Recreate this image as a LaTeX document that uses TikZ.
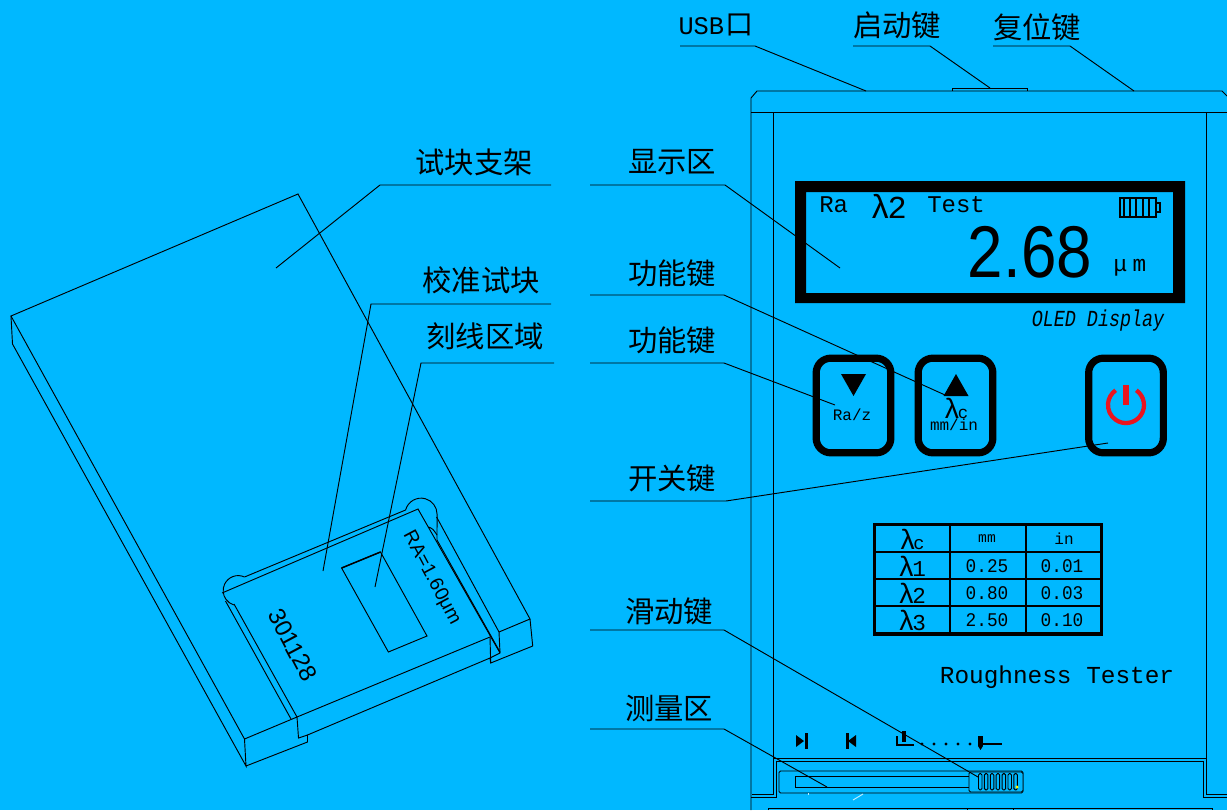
\documentclass[tikz,border=0pt]{standalone}
\usepackage{fontspec}
\setmainfont{Liberation Mono}
\newfontfamily\cjkfont{Noto Sans CJK SC}
\newfontfamily\sansfont{Liberation Sans}
\newcommand{\fs}[1]{\fontsize{#1}{#1}\selectfont}
\definecolor{bgblue}{RGB}{0,184,255}
\definecolor{keyred}{RGB}{235,20,30}
\usetikzlibrary{positioning}
\begin{document}
\begin{tikzpicture}[x=0.75pt,y=-0.75pt,
    leader/.style={draw=black,line width=0.7pt},
    outline/.style={draw=black,line width=0.7pt},
    cjklabel/.style={inner sep=0pt,font=\cjkfont\fs{22}},
    monotext/.style={inner sep=0pt,font=\fs{18}},
    keybox/.style={draw=black,line width=5.4pt,rounded corners=11pt,minimum width=56pt,minimum height=71pt,inner sep=0pt},
    gridline/.style={draw=black,line width=2pt},
    ribline/.style={draw=black,line width=0.7pt,rounded corners=1.1pt}]
 % Background sets the page size
 \fill[bgblue] (0,0) rectangle (1227,810);
 \useasboundingbox (0,0) rectangle (1227,810);

 % Test block holder
 \draw[outline] (244.5,739) -- (11,316) -- (298,194) -- (530,619) -- (532.7,646) -- (490.7,663) -- (490,637);
 \draw[outline] (11,316) -- (12.5,344) -- (246,766) -- (244.5,739) -- (297,717) -- (298.5,738) -- (307.5,735) -- (307.5,742) -- (246,766);
 \draw[outline] (307.5,735) -- (490,658) -- (490.7,663);
 \draw[outline] (297,717) -- (490,637);
 \draw[outline] (530,619) -- (499,632) -- (500,653) -- (490,658);

 % Calibration plate
 \draw[outline] (222,593) -- (418,509) -- (500,653);
 \draw[outline] (234,604) -- (297,717);
 \draw[outline] (244.5,577) -- (405.6,510);
 \draw[outline] (244.5,577) arc[start angle=65,end angle=253,radius=11.25pt];
 \draw[outline] (225.5,601) -- (291,719);
 \draw[outline] (405.6,510) arc[start angle=165,end angle=0,radius=12pt] -- (437,540);
 \draw[outline] (428.7,527) .. controls (433,529) .. (437,535);
 \draw[outline] (436.6,517) -- (499,632);
 \draw[outline] (437,540) -- (500,652);
 \draw[outline] (341.6,568) -- (380.5,552) -- (427,636) -- (388.4,652) -- cycle;
 \draw[line width=1.1pt] (341.6,568) -- (380.5,552);
 \node[inner sep=0pt,rotate=-62,font=\sansfont\fs{18}] (plateNo) at (292.7,645) {301128};
 \node[inner sep=0pt,rotate=-62,font=\sansfont\fs{14.5}] (plateRa) at (431.5,578) {RA=1.60μm};

 % Instrument body
 \draw[outline] (751,810) -- (751,98) -- (757,91) -- (1222,91) -- (1227,96);
 \draw[outline] (751,112) -- (1227,112);
 \draw[outline] (773,112) -- (773,794) -- (752,794);
 \draw[outline] (1206,112) -- (1206,794) -- (1227,794);
 \draw[outline] (952,91) -- (952,88) -- (1027,88) -- (1027,91);
 \draw[outline] (773,758) -- (1206,758);
 \draw[outline] (751,797) -- (776,797) -- (776,761) -- (1203,761) -- (1203,797) -- (1227,797);
 \draw[outline] (768,810) -- (768,808) -- (1212,808) -- (1212,810);
 \draw[outline] (967,808) -- (967,810);
 \draw[outline] (1013,808) -- (1013,810);

 % Display
 \fill[black,even odd rule] (795,181) rectangle (1185,303) (806,192) rectangle (1173,293);
 \node[monotext,anchor=west] (dispRa) at (819,205) {Ra};
 \node[inner sep=0pt,anchor=west,font=\fs{25}] (dispLam) at (870,206) {λ\kern-2pt\fs{24}2};
 \node[monotext,anchor=west] (dispTest) at (927,205) {Test};
 \node[inner sep=0pt,xscale=0.87,transform shape,font=\sansfont\fs{55}] (dispValue) at (1030,252) {2.68};
 \node[inner sep=0pt,font=\fs{17}] (dispUnit) at (1130,268) {μ\hspace{4pt}m};
 \node[inner sep=0pt,yscale=1.25,transform shape,font=\itshape\fs{13.8}] (oledText) at (1098,321) {OLED Display};
 % Battery
 \draw[line width=0.9pt] (1120,198) rectangle (1156,217);
 \draw[line width=0.9pt] (1156,203) rectangle (1160,212);
 \foreach \x in {1124,1130,1136,1143,1149}
   \draw[line width=0.9pt] (\x,198) -- (\x,217);

 % Keys
 \node[keybox] (keyDown) at (853.5,405.5) {};
 \node[keybox] (keyUp) at (955.5,405.5) {};
 \node[keybox] (keyPower) at (1126,405.5) {};
 \fill (841,374) -- (866,374) -- (853.5,396) -- cycle;
 \fill (956,374) -- (968.5,396) -- (943.5,396) -- cycle;
 \node[inner sep=0pt,font=\fs{12}] (textRaz) at (852,415) {Ra/z};
 \node[inner sep=0pt,font=\fs{21}] (textLam) at (956,408) {λ\kern-2pt\fs{13}c};
 \node[inner sep=0pt,font=\fs{12}] (textMm) at (954,425) {mm/in};
 \draw[keyred,line width=3.2pt] (1136.3,390.3) arc[start angle=55,end angle=-235,radius=13.5pt];
 \draw[keyred,line width=3.8pt] (1126,385) -- (1126,405);

 % Cut-off table
 \draw[line width=2.4pt] (874.5,524.5) rectangle (1101.5,634);
 \foreach \x in {950,1026}
   \draw[gridline] (\x,524) -- (\x,634);
 \foreach \y in {552,579,606}
   \draw[gridline] (874,\y) -- (1102,\y);
 \node[inner sep=0pt,font=\fs{21}] (cellLc) at (912,539) {λ\kern-2pt\fs{14}c};
 \node[inner sep=0pt,font=\fs{11}] (cellMm) at (987,539) {mm};
 \node[inner sep=0pt,font=\fs{12}] (cellIn) at (1064,539) {in};
 \foreach \n/\y/\a/\b in {1/566/0.25/0.01,2/593/0.80/0.03,3/620/2.50/0.10} {
   \node[inner sep=0pt,font=\fs{21}] (cellL\n) at (912,\y) {λ\kern-2pt\fs{17}\n};
   \node[inner sep=0pt,xscale=0.92,transform shape,font=\fs{14.5}] (cellA\n) at (987,\y) {\a};
   \node[inner sep=0pt,xscale=0.92,transform shape,font=\fs{14.5}] (cellB\n) at (1062,\y) {\b};
 }
 \node[monotext,font=\fs{18.3}] (nameText) at (1057,677) {Roughness Tester};

 % Travel marks
 \fill (796,735) -- (804,741) -- (796,747) -- cycle;
 \fill (805,733) rectangle (808,749);
 \fill (846,733) rectangle (849,749);
 \fill (856,735) -- (848,741) -- (856,747) -- cycle;
 \draw[line width=1.4pt] (897,736) -- (897,745) -- (914,745);
 \draw[line width=2.8pt] (904,731) -- (904,742);
 \foreach \x in {922,934,946,958,970}
   \fill (\x,744) circle[radius=1.2pt];
 \fill (978,736) rectangle (983,746);
 \fill (978,746) -- (983,746) -- (980.5,750) -- cycle;
 \draw[line width=1.5pt] (983,744) -- (1002,744);

 % Slider
 \draw[ribline] (779,771) rectangle (1023,793);
 \draw[outline] (795,776) rectangle (969,787);
 \draw[ribline,fill=bgblue] (969,772) rectangle (1023,792);
 \foreach \i in {0,...,6}
   \draw[ribline] ({978.5+5.9*\i},773.5) rectangle ({982+5.9*\i},790);
 \fill[yellow] (1017,787) circle[radius=1.3pt];
 \draw[white!75!bgblue,line width=0.7pt] (853,800) -- (863,794);
 \draw[white!75!bgblue,line width=0.7pt] (808,793) -- (808,795);

 % Labels with their leader lines
 \foreach \n/\txt/\lx/\ly/\ax/\ay/\bx/\by/\cx/\cy in {
   holder/试块支架/474/162/551/185/380/185/276/268,
   plate/校准试块/481/280/551/304/371/304/323/571,
   scale/刻线区域/485/336/554/363/421/363/375/587,
   display/显示区/672/162/590/185/725/185/840/268,
   fnUp/功能键/672/273/590/295/724/295/945/395,
   fnDown/功能键/672/340/590/363/724/363/835/405,
   power/开关键/672/478/590/501/726/501/1108/443,
   slide/滑动键/669/611/590/630/724/630/978/777,
   measure/测量区/669/708/590/729/724/729/827/787,
   start/启动键/897/25/853/46/930/46/990/88,
   reset/复位键/1037/27/993/46/1070/46/1134/91} {
   \node[cjklabel] (\n) at (\lx,\ly) {\txt};
   \coordinate (\n A) at (\ax,\ay);
   \coordinate (\n B) at (\bx,\by);
   \coordinate (\n C) at (\cx,\cy);
   \draw[leader] (\n A) -- (\n B) -- (\n C);
 }
 \node[inner sep=0pt,font=\fs{19}] (usb) at (716,25) {USB\kern1pt{\cjkfont\fs{21}口}};
 \coordinate (usbA) at (680,46);
 \coordinate (usbB) at (755,46);
 \coordinate (usbC) at (866,91);
 \draw[leader] (usbA) -- (usbB) -- (usbC);
\end{tikzpicture}
\end{document}
